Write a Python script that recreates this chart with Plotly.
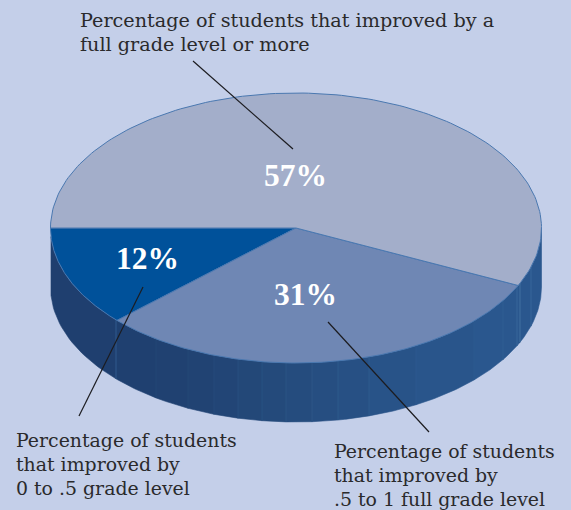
import numpy as np
import plotly.graph_objects as go

# --- data ---
shares = [12, 31, 57]
share_labels = ["12%", "31%", "57%"]
slice_colors = ["#00519a", "#6f87b4", "#a3aeca"]
caption_full = ["Percentage of students that improved by a", "full grade level or more"]
caption_low = ["Percentage of students", "that improved by", "0 to .5 grade level"]
caption_mid = ["Percentage of students", "that improved by", ".5 to 1 full grade level"]

# --- geometry (pixel space of the axes) ---
W, H = 571, 510
CX, CY, RX, RY, DEPTH = 296, 228, 245.5, 135, 59
START_ANGLE = 180
facet_edges = [51, 116, 156, 188, 214, 238, 262, 286, 312, 338, 369, 416, 474, 503, 517, 520, 531, 542]
facet_colors = ["#1f3f6f", "#1f4070", "#204171", "#214373", "#224576", "#234878", "#244a7b", "#254c7e",
                "#264e81", "#275084", "#285388", "#29558b", "#2a578e", "#2a578e", "#2a578e", "#2a578e", "#2a578e"]
seam_colors = ["#3a659c", "#264a7a", "#264a7a", "#2a4f80", "#2d5384", "#2d5688", "#2f598b", "#305b8e",
               "#325e91", "#325e91", "#2f5c93", "#2f5c93", "#356298", "#3f6ea5", "#4f7dae", "#3f6ea5"]
BG = "#c4cfe9"
EDGE = "#4a78b0"
INK = "#2a2a2c"
SERIF = "DejaVu Serif"


def ell(t_deg, dy=0):
    t = np.radians(t_deg)
    return CX + RX * np.cos(t), CY + RY * np.sin(t) + dy


fig = go.Figure()

# side wall facets
for i, col in enumerate(facet_colors):
    a0 = np.degrees(np.arccos(np.clip((facet_edges[i] - CX) / RX, -1, 1)))
    a1 = np.degrees(np.arccos(np.clip((facet_edges[i + 1] - CX) / RX, -1, 1)))
    ts = np.linspace(a0, a1, 24)
    xt, yt = ell(ts)
    xb, yb = ell(ts[::-1], DEPTH)
    fig.add_trace(go.Scatter(
        x=np.r_[xt, xb, xt[0]], y=np.r_[yt, yb, yt[0]], mode="lines", fill="toself",
        fillcolor=col, line=dict(color=col, width=0.6), hoverinfo="skip", showlegend=False))

# faint facet seams
for e, col in zip(facet_edges[1:-1], seam_colors):
    a = np.degrees(np.arccos((e - CX) / RX))
    xt, yt = ell(a)
    xb, yb = ell(a, DEPTH)
    fig.add_trace(go.Scatter(x=[xt, xb], y=[yt, yb], mode="lines",
                             line=dict(color=col, width=0.7), hoverinfo="skip", showlegend=False))

# top surface, angles taken from the shares
angle = START_ANGLE
total = sum(shares)
for value, col in zip(shares, slice_colors):
    sweep = 360 * value / total
    ts = np.linspace(angle, angle - sweep, 160)
    x, y = ell(ts)
    fig.add_trace(go.Scatter(
        x=np.r_[CX, x, CX], y=np.r_[CY, y, CY], mode="lines", fill="toself",
        fillcolor=col, line=dict(color=EDGE, width=1), name=str(value), hoverinfo="skip", showlegend=False))
    angle -= sweep

# leader lines
leaders = [((193, 61), (293, 149)), ((143, 287), (79, 416)), ((328, 322), (429, 432))]
for (x0, y0), (x1, y1) in leaders:
    fig.add_trace(go.Scatter(x=[x0, x1], y=[y0, y1], mode="lines",
                             line=dict(color="#1c1c20", width=1.2), hoverinfo="skip", showlegend=False))

annotations = []


def put(text, x, y, size, color=INK, family=SERIF, anchor="left"):
    annotations.append(dict(text=text, x=x, y=y, xref="x", yref="y", showarrow=False,
                            xanchor=anchor, yanchor="middle", align=anchor,
                            font=dict(family=family, size=size, color=color)))


for i, line in enumerate(caption_full):
    put(line, 77.5, 20.5 + 24 * i, 19.2)
for i, line in enumerate(caption_low):
    put(line, 14, 439.5 + 24 * i, 18.9)
for i, line in enumerate(caption_mid):
    put(line, 332, 450.5 + 24 * i, 18.9)

label_pos = [(147.5, 258), (305, 294), (295.5, 175)]
for lab, (x, y) in zip(share_labels, label_pos):
    put("<b>%s</b>" % lab, x, y, 31.5, color="#ffffff", family="Liberation Serif", anchor="center")

fig.update_layout(
    width=W, height=H, margin=dict(l=0, r=0, t=0, b=0),
    paper_bgcolor=BG, plot_bgcolor=BG, showlegend=False, annotations=annotations,
    xaxis=dict(range=[0, W], visible=False, fixedrange=True),
    yaxis=dict(range=[H, 0], visible=False, fixedrange=True),
)
fig.write_html("out.html", config=dict(displayModeBar=False),
               post_script="document.body.style.margin='0';document.body.style.overflow='hidden';document.body.style.background='%s';" % BG)
